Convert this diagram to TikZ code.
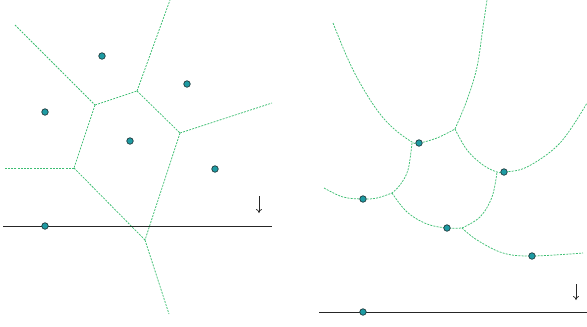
\documentclass[tikz,border=0pt]{standalone}
\usetikzlibrary{arrows.meta}
\definecolor{edgegreen}{HTML}{3DBE72}
\definecolor{sitefill}{HTML}{1E9BA3}
\definecolor{siteline}{HTML}{1F3A3C}
\tikzset{
  vedge/.style={edgegreen, line width=0.75pt, dash pattern=on 2pt off 1.2pt},
  site/.style={circle, draw=siteline, fill=sitefill, line width=0.7pt, inner sep=0pt, minimum size=6.5pt},
  sweep/.style={black!85, line width=0.9pt},
  sweeparrow/.style={black!85, line width=0.7pt, -{To[length=4pt,width=6pt]}},
}
\begin{document}
\begin{tikzpicture}[x=1pt,y=-1pt]
\useasboundingbox (0,0) rectangle (587,327);
% ---------- left panel ----------
\coordinate (v1) at (95,105);
\coordinate (v2) at (137,91);
\coordinate (v3) at (180,133);
\coordinate (v4) at (74,168);
\coordinate (v5) at (145,240);
\coordinate (e1) at (15,25);
\coordinate (e2) at (170,0);
\coordinate (e3) at (272,103);
\coordinate (e4) at (4,168);
\coordinate (e5) at (169,314);
\draw[vedge] (e1) -- (v1);
\draw[vedge] (v1) -- (v2);
\draw[vedge] (v2) -- (e2);
\draw[vedge] (v2) -- (v3);
\draw[vedge] (v3) -- (e3);
\draw[vedge] (v1) -- (v4);
\draw[vedge] (v4) -- (e4);
\draw[vedge] (v4) -- (v5);
\draw[vedge] (v3) -- (v5);
\draw[vedge] (v5) -- (e5);
\coordinate (sl1) at (3,226);
\coordinate (sr1) at (272,226);
\draw[sweep] (sl1) -- (sr1);
\coordinate (a1s) at (259,196);
\coordinate (a1e) at (259,213);
\draw[sweeparrow] (a1s) -- (a1e);
\node[site] (p1) at (102,56) {};
\node[site] (p2) at (187,84) {};
\node[site] (p3) at (45,112) {};
\node[site] (p4) at (130,141) {};
\node[site] (p5) at (215,169) {};
\node[site] (p6) at (45,226) {};
% ---------- right panel ----------
\draw[vedge] plot[smooth, tension=0.6] coordinates {(333,23) (347,57) (360,83) (377,110) (393,128) (412,142) (419,143) (437,138) (455,129)};
\draw[vedge] plot[smooth, tension=0.6] coordinates {(455,129) (467,100) (477,67) (483,27) (487,0)};
\draw[vedge] plot[smooth, tension=0.6] coordinates {(455,129) (467,150) (483,165) (497,172) (504,172) (527,167) (560,143) (587,103)};
\draw[vedge] plot[smooth, tension=0.6] coordinates {(412,143) (408,170) (400,185) (392,193)};
\draw[vedge] plot[smooth, tension=0.6] coordinates {(324,188) (343,197) (363,199) (377,198) (392,193)};
\draw[vedge] plot[smooth, tension=0.6] coordinates {(392,193) (407,212) (427,224) (447,228) (462,228)};
\draw[vedge] plot[smooth, tension=0.6] coordinates {(462,228) (480,217) (492,197) (497,172)};
\draw[vedge] plot[smooth, tension=0.6] coordinates {(462,228) (477,240) (503,253) (532,256) (583,253)};
\coordinate (sl2) at (319,312);
\coordinate (sr2) at (587,312);
\draw[sweep] (sl2) -- (sr2);
\coordinate (a2s) at (576,284);
\coordinate (a2e) at (576,300);
\draw[sweeparrow] (a2s) -- (a2e);
\node[site] (q1) at (419,143) {};
\node[site] (q2) at (504,172) {};
\node[site] (q3) at (363,199) {};
\node[site] (q4) at (447,228) {};
\node[site] (q5) at (532,256) {};
\node[site] (q6) at (363,312) {};
\end{tikzpicture}
\end{document}
